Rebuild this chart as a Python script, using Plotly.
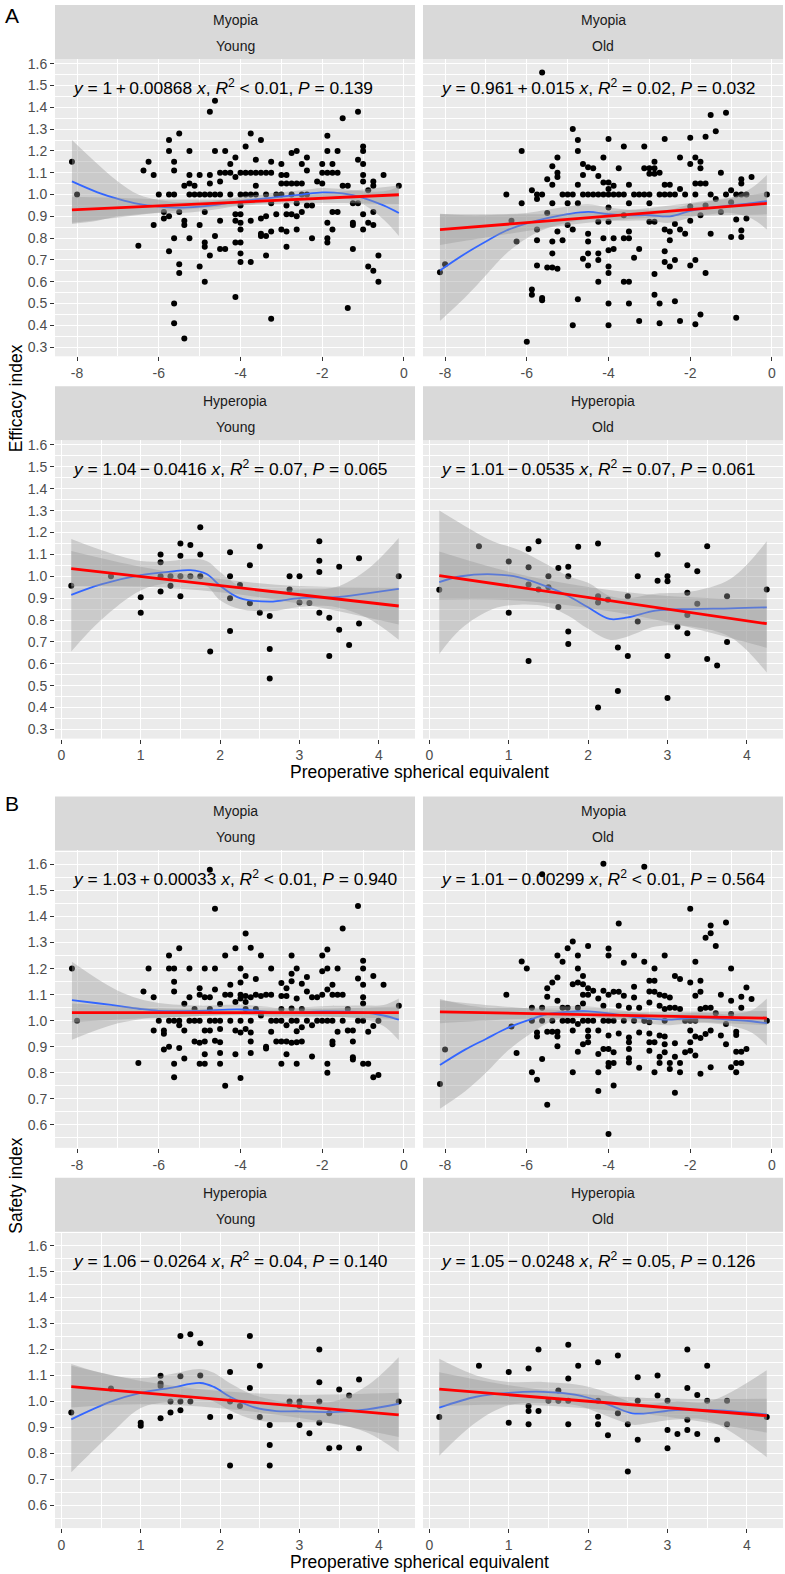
import plotly.graph_objects as go

W, H = 785, 1574

# ---------------- tick labels and facet labels ----------------
eff_ticks = [0.3, 0.4, 0.5, 0.6, 0.7, 0.8, 0.9, 1.0, 1.1, 1.2, 1.3, 1.4, 1.5, 1.6]
eff_tick_text = ['0.3', '0.4', '0.5', '0.6', '0.7', '0.8', '0.9', '1.0', '1.1', '1.2', '1.3', '1.4', '1.5', '1.6']
safe_ticks = [0.6, 0.7, 0.8, 0.9, 1.0, 1.1, 1.2, 1.3, 1.4, 1.5, 1.6]
safe_tick_text = ['0.6', '0.7', '0.8', '0.9', '1.0', '1.1', '1.2', '1.3', '1.4', '1.5', '1.6']
myo_ticks = [-8, -6, -4, -2, 0]
myo_tick_text = ['-8', '-6', '-4', '-2', '0']
hyp_ticks = [0, 1, 2, 3, 4]
hyp_tick_text = ['0', '1', '2', '3', '4']

refraction = ['Myopia', 'Hyperopia']
age_group = ['Young', 'Old']
y_titles = ['Efficacy index', 'Safety index']
x_title = 'Preoperative spherical equivalent'
fig_labels = ['A', 'B']

eq_labels = [
    '<i>y</i> = 1\u2009+\u20090.00868 <i>x</i>, <i>R</i><sup>2</sup> &lt; 0.01, <i>P</i> = 0.139',
    '<i>y</i> = 0.961\u2009+\u20090.015 <i>x</i>, <i>R</i><sup>2</sup> = 0.02, <i>P</i> = 0.032',
    '<i>y</i> = 1.04\u2009\u2212\u20090.0416 <i>x</i>, <i>R</i><sup>2</sup> = 0.07, <i>P</i> = 0.065',
    '<i>y</i> = 1.01\u2009\u2212\u20090.0535 <i>x</i>, <i>R</i><sup>2</sup> = 0.07, <i>P</i> = 0.061',
    '<i>y</i> = 1.03\u2009+\u20090.00033 <i>x</i>, <i>R</i><sup>2</sup> &lt; 0.01, <i>P</i> = 0.940',
    '<i>y</i> = 1.01\u2009\u2212\u20090.00299 <i>x</i>, <i>R</i><sup>2</sup> &lt; 0.01, <i>P</i> = 0.564',
    '<i>y</i> = 1.06\u2009\u2212\u20090.0264 <i>x</i>, <i>R</i><sup>2</sup> = 0.04, <i>P</i> = 0.140',
    '<i>y</i> = 1.05\u2009\u2212\u20090.0248 <i>x</i>, <i>R</i><sup>2</sup> = 0.05, <i>P</i> = 0.126',
]

# ---------------- A: efficacy, myopia young ----------------
a_myo_young_pts = [
    (-8.125, 1.15), (-8.0, 1.0), (-6.5, 0.765), (-6.375, 1.11), (-6.25, 1.15), (-6.125, 1.09), (-6.125, 0.86),
    (-6.0, 1.0), (-5.875, 0.92), (-5.875, 0.89),
    (-5.75, 1.25), (-5.75, 1.2), (-5.75, 1.0), (-5.75, 0.9), (-5.75, 0.74),
    (-5.625, 1.15), (-5.625, 1.11), (-5.625, 1.0), (-5.625, 0.8), (-5.625, 0.5), (-5.625, 0.41),
    (-5.5, 1.28), (-5.5, 0.92), (-5.5, 0.68), (-5.5, 0.64),
    (-5.375, 1.04), (-5.375, 0.88), (-5.375, 0.86), (-5.375, 0.34),
    (-5.25, 1.2), (-5.25, 1.09), (-5.25, 1.05), (-5.25, 1.0), (-5.25, 0.8),
    (-5.125, 1.04), (-5.125, 1.0),
    (-5.0, 1.09), (-5.0, 1.0), (-5.0, 0.86), (-5.0, 0.67),
    (-4.875, 0.78), (-4.875, 0.76), (-4.875, 0.92), (-4.875, 0.6), (-4.875, 1.0),
    (-4.75, 1.38), (-4.75, 1.09), (-4.75, 1.05), (-4.75, 1.0), (-4.75, 0.72),
    (-4.625, 1.43), (-4.625, 1.2), (-4.625, 1.0), (-4.625, 0.81),
    (-4.5, 1.1), (-4.5, 1.06), (-4.5, 1.0), (-4.5, 0.88), (-4.5, 0.75),
    (-4.375, 1.2), (-4.375, 1.1), (-4.375, 0.75),
    (-4.25, 1.14), (-4.25, 1.1), (-4.25, 1.0),
    (-4.125, 1.17), (-4.125, 1.08), (-4.125, 0.91), (-4.125, 0.88), (-4.125, 0.78), (-4.125, 0.53),
    (-4.0, 1.1), (-4.0, 1.0), (-4.0, 0.95), (-4.0, 0.91), (-4.0, 0.87), (-4.0, 0.84), (-4.0, 0.78),
    (-4.0, 0.73), (-4.0, 0.69),
    (-3.875, 1.22), (-3.875, 1.1), (-3.875, 1.0),
    (-3.75, 1.28), (-3.75, 1.1), (-3.75, 1.0), (-3.75, 0.88), (-3.75, 0.69),
    (-3.625, 1.16), (-3.625, 1.04), (-3.625, 1.0), (-3.625, 1.1),
    (-3.5, 1.25), (-3.5, 1.1), (-3.5, 0.89), (-3.5, 0.82), (-3.5, 0.81),
    (-3.375, 1.1), (-3.375, 1.0), (-3.375, 0.9), (-3.375, 0.81), (-3.375, 0.72),
    (-3.25, 1.15), (-3.25, 1.1), (-3.25, 0.96), (-3.25, 0.83), (-3.25, 0.43),
    (-3.125, 1.0), (-3.125, 0.91),
    (-3.0, 1.14), (-3.0, 1.09), (-3.0, 1.05), (-3.0, 1.0), (-3.0, 0.84),
    (-2.875, 1.09), (-2.875, 1.05), (-2.875, 0.95), (-2.875, 0.91), (-2.875, 0.83), (-2.875, 0.76),
    (-2.75, 1.19), (-2.75, 1.05), (-2.75, 1.0), (-2.75, 0.91),
    (-2.625, 1.2), (-2.625, 1.05), (-2.625, 0.96), (-2.625, 0.9), (-2.625, 0.84),
    (-2.5, 1.14), (-2.5, 1.05), (-2.5, 1.0), (-2.5, 0.92),
    (-2.375, 1.17), (-2.375, 1.11), (-2.375, 1.0), (-2.375, 0.95),
    (-2.25, 0.95), (-2.25, 0.8), (-2.125, 1.06),
    (-2.0, 1.14), (-2.0, 1.1), (-2.0, 1.05),
    (-1.875, 1.27), (-1.875, 1.2), (-1.875, 1.1), (-1.875, 0.87), (-1.875, 0.8), (-1.875, 0.78),
    (-1.75, 1.14), (-1.75, 1.1), (-1.75, 0.92), (-1.75, 0.84),
    (-1.625, 1.2), (-1.625, 1.1), (-1.625, 0.92),
    (-1.5, 1.35), (-1.5, 1.04), (-1.375, 1.04), (-1.375, 0.48),
    (-1.25, 0.96), (-1.25, 0.87), (-1.25, 0.86), (-1.25, 0.75),
    (-1.125, 1.38), (-1.125, 1.16), (-1.125, 0.96),
    (-1.0, 1.22), (-1.0, 1.2), (-1.0, 1.14), (-1.0, 1.09), (-1.0, 1.06), (-1.0, 0.91), (-1.0, 0.84),
    (-0.875, 1.02), (-0.875, 0.87), (-0.875, 0.67),
    (-0.75, 1.06), (-0.75, 1.04), (-0.75, 0.92), (-0.75, 0.86), (-0.75, 0.65),
    (-0.625, 0.72), (-0.625, 0.6), (-0.5, 1.09), (-0.125, 1.04),
]
a_myo_young_loess_x = [-8.125, -7.5, -7, -6.5, -6, -5.5, -5, -4.5, -4, -3.5, -3, -2.5, -2, -1.5, -1, -0.5, -0.125]
a_myo_young_loess_fit = [1.06, 1.01, 0.98, 0.957, 0.945, 0.94, 0.945, 0.955, 0.97, 0.98, 0.99, 1.0, 1.01, 1.005, 0.985, 0.95, 0.915]
a_myo_young_loess_hi = [1.25, 1.14, 1.06, 1.0, 0.975, 0.965, 0.968, 0.975, 0.99, 1.0, 1.01, 1.02, 1.03, 1.025, 1.015, 1.015, 1.035]
a_myo_young_loess_lo = [0.865, 0.88, 0.9, 0.91, 0.915, 0.915, 0.922, 0.935, 0.95, 0.96, 0.97, 0.98, 0.99, 0.985, 0.955, 0.885, 0.81]
a_myo_young_band_x = [-8.125, -7, -6, -5, -4, -3, -2, -1, -0.125]
a_myo_young_band_hi = [0.99, 0.985, 0.978, 0.977, 0.98, 0.99, 1.005, 1.023, 1.041]
a_myo_young_band_lo = [0.87, 0.895, 0.918, 0.937, 0.95, 0.958, 0.961, 0.959, 0.957]
a_myo_young_lm_x = [-8.125, -0.125]
a_myo_young_lm_y = [0.93, 0.999]

# ---------------- A: efficacy, myopia old ----------------
a_myo_old_pts = [
    (-8.125, 0.644), (-8.0, 0.68),
    (-6.5, 1.0), (-6.375, 0.88), (-6.25, 0.785), (-6.125, 1.2), (-6.125, 0.96), (-6.0, 0.325),
    (-5.875, 1.02), (-5.875, 0.565), (-5.875, 0.54),
    (-5.75, 1.0), (-5.75, 0.98), (-5.75, 0.84), (-5.75, 0.79), (-5.75, 0.675),
    (-5.625, 1.56), (-5.625, 1.0), (-5.625, 0.525), (-5.625, 0.515),
    (-5.5, 1.07), (-5.5, 0.915), (-5.5, 0.665),
    (-5.375, 1.13), (-5.375, 1.045), (-5.375, 0.96), (-5.375, 0.785), (-5.375, 0.73), (-5.375, 0.665),
    (-5.25, 1.17), (-5.25, 1.1), (-5.25, 1.08), (-5.25, 0.83), (-5.25, 0.66),
    (-5.125, 1.0), (-5.125, 0.79),
    (-5.0, 1.0), (-5.0, 0.96), (-5.0, 0.86),
    (-4.875, 1.3), (-4.875, 1.0), (-4.875, 0.84), (-4.875, 0.4),
    (-4.75, 1.25), (-4.75, 1.2), (-4.75, 1.045), (-4.75, 0.96), (-4.75, 0.52),
    (-4.625, 1.14), (-4.625, 1.09), (-4.625, 1.0), (-4.625, 0.705),
    (-4.5, 1.125), (-4.5, 1.0), (-4.5, 0.82), (-4.5, 0.785), (-4.5, 0.73), (-4.5, 0.675),
    (-4.375, 1.12), (-4.375, 1.0),
    (-4.25, 1.085), (-4.25, 0.875), (-4.25, 0.73), (-4.25, 0.7), (-4.25, 0.6), (-4.25, 1.0),
    (-4.125, 1.17), (-4.125, 1.055), (-4.125, 1.0), (-4.125, 0.8),
    (-4.0, 1.255), (-4.0, 1.055), (-4.0, 1.025), (-4.0, 0.94), (-4.0, 0.875), (-4.0, 0.745),
    (-4.0, 0.67), (-4.0, 0.64), (-4.0, 0.5), (-4.0, 0.4), (-4.0, 1.0),
    (-3.875, 1.04), (-3.875, 1.0), (-3.875, 0.8), (-3.875, 0.75),
    (-3.75, 1.12), (-3.75, 1.0),
    (-3.625, 1.22), (-3.625, 1.0), (-3.625, 0.905), (-3.625, 0.8), (-3.625, 0.6),
    (-3.5, 1.045), (-3.5, 0.96), (-3.5, 0.83), (-3.5, 0.8), (-3.5, 0.6), (-3.5, 0.5),
    (-3.375, 1.0), (-3.375, 0.71),
    (-3.25, 1.0), (-3.25, 0.75), (-3.25, 0.42),
    (-3.125, 1.22), (-3.125, 1.12), (-3.125, 1.0),
    (-3.0, 1.12), (-3.0, 1.095), (-3.0, 0.96), (-3.0, 0.875), (-3.0, 1.0),
    (-2.875, 1.15), (-2.875, 1.12), (-2.875, 1.095), (-2.875, 0.875), (-2.875, 0.635), (-2.875, 0.54),
    (-2.75, 1.1), (-2.75, 1.0), (-2.75, 0.5), (-2.75, 0.41),
    (-2.625, 1.255), (-2.625, 1.045), (-2.625, 1.0), (-2.625, 0.84), (-2.625, 0.74), (-2.625, 0.69),
    (-2.5, 1.045), (-2.5, 1.0), (-2.5, 0.83), (-2.5, 0.79), (-2.5, 0.67),
    (-2.375, 1.0), (-2.375, 0.865), (-2.375, 0.7), (-2.375, 0.51),
    (-2.25, 1.17), (-2.25, 1.025), (-2.25, 0.84), (-2.25, 0.42),
    (-2.125, 1.0), (-2.125, 0.82),
    (-2.0, 1.26), (-2.0, 1.14), (-2.0, 0.945), (-2.0, 0.88), (-2.0, 0.675),
    (-1.875, 1.17), (-1.875, 1.05), (-1.875, 1.0), (-1.875, 0.7), (-1.875, 0.405),
    (-1.75, 1.15), (-1.75, 1.12), (-1.75, 1.05), (-1.75, 0.905), (-1.75, 0.45),
    (-1.625, 1.265), (-1.625, 1.05), (-1.625, 0.95), (-1.625, 0.64),
    (-1.5, 1.365), (-1.5, 1.0), (-1.5, 0.82),
    (-1.375, 1.29), (-1.375, 0.98),
    (-1.25, 1.1), (-1.25, 0.92),
    (-1.125, 1.375), (-1.125, 1.0),
    (-1.0, 1.02), (-1.0, 0.965), (-1.0, 0.805),
    (-0.875, 1.0), (-0.875, 0.885), (-0.875, 0.435),
    (-0.75, 1.07), (-0.75, 1.05), (-0.75, 1.0), (-0.75, 0.835), (-0.75, 0.805),
    (-0.625, 1.0), (-0.625, 0.89), (-0.5, 1.08), (-0.125, 1.0),
]
a_myo_old_loess_x = [-8.125, -7.5, -7, -6.5, -6, -5.5, -5, -4.5, -4, -3.5, -3, -2.5, -2, -1.5, -1, -0.5, -0.125]
a_myo_old_loess_fit = [0.652, 0.73, 0.785, 0.835, 0.868, 0.892, 0.91, 0.92, 0.91, 0.905, 0.905, 0.9, 0.925, 0.94, 0.95, 0.96, 0.97]
a_myo_old_loess_hi = [0.912, 0.905, 0.905, 0.91, 0.915, 0.93, 0.945, 0.955, 0.94, 0.93, 0.93, 0.93, 0.955, 0.97, 0.985, 1.03, 1.09]
a_myo_old_loess_lo = [0.42, 0.53, 0.63, 0.73, 0.8, 0.845, 0.87, 0.885, 0.88, 0.88, 0.88, 0.87, 0.895, 0.91, 0.915, 0.89, 0.84]
a_myo_old_band_x = [-8.125, -7, -6, -5, -4, -3, -2, -1, -0.125]
a_myo_old_band_hi = [0.909, 0.909, 0.909, 0.912, 0.922, 0.938, 0.961, 0.986, 1.009]
a_myo_old_band_lo = [0.769, 0.803, 0.833, 0.86, 0.88, 0.894, 0.901, 0.906, 0.909]
a_myo_old_lm_x = [-8.125, -0.125]
a_myo_old_lm_y = [0.839, 0.959]

# ---------------- A: efficacy, hyperopia young ----------------
a_hyp_young_pts = [
    (0.125, 0.957), (0.625, 1.0), (1.0, 0.904), (1.0, 0.833),
    (1.25, 1.099), (1.25, 1.064), (1.25, 1.0), (1.25, 0.93),
    (1.375, 1.0), (1.375, 0.957),
    (1.5, 1.15), (1.5, 1.094), (1.5, 1.0), (1.5, 0.909),
    (1.625, 1.143), (1.625, 1.0),
    (1.75, 1.224), (1.75, 1.099), (1.75, 1.0), (1.875, 0.656),
    (2.125, 1.11), (2.125, 1.0), (2.125, 0.9), (2.125, 0.75),
    (2.25, 0.96), (2.375, 1.05), (2.375, 0.877), (2.5, 1.136), (2.5, 0.833),
    (2.625, 0.818), (2.625, 0.667), (2.625, 0.533),
    (2.875, 1.0), (2.875, 0.94), (3.0, 1.0), (3.0, 0.88), (3.125, 0.878),
    (3.25, 1.16), (3.25, 1.071), (3.25, 1.02), (3.25, 0.833),
    (3.375, 0.81), (3.375, 0.636), (3.5, 1.044), (3.5, 0.755), (3.625, 0.686),
    (3.75, 1.082), (3.75, 0.784), (4.25, 1.0),
]
a_hyp_young_loess_x = [0.125, 0.5, 1.0, 1.375, 1.625, 1.83, 2.0, 2.25, 2.625, 3.0, 3.45, 3.85, 4.25]
a_hyp_young_loess_fit = [0.915, 0.963, 1.005, 1.021, 1.028, 1.01, 0.957, 0.9, 0.884, 0.9, 0.904, 0.922, 0.942]
a_hyp_young_loess_hi = [1.17, 1.12, 1.07, 1.07, 1.08, 1.07, 1.02, 0.955, 0.93, 0.94, 0.95, 1.03, 1.175]
a_hyp_young_loess_lo = [0.656, 0.8, 0.935, 0.97, 0.975, 0.955, 0.89, 0.85, 0.84, 0.86, 0.86, 0.81, 0.71]
a_hyp_young_band_x = [0.125, 1, 2, 3, 4.25]
a_hyp_young_band_hi = [1.115, 1.043, 0.987, 0.955, 0.949]
a_hyp_young_band_lo = [0.955, 0.953, 0.927, 0.875, 0.779]
a_hyp_young_lm_x = [0.125, 4.25]
a_hyp_young_lm_y = [1.035, 0.864]

# ---------------- A: efficacy, hyperopia old ----------------
a_hyp_old_pts = [
    (0.125, 0.938), (0.625, 1.137), (1.0, 1.067), (1.0, 0.833),
    (1.25, 1.125), (1.25, 1.041), (1.25, 0.962), (1.25, 0.613),
    (1.375, 1.16), (1.375, 0.939), (1.5, 1.0), (1.5, 0.95),
    (1.625, 1.038), (1.625, 0.86),
    (1.75, 1.044), (1.75, 1.0), (1.75, 0.747), (1.75, 0.69), (1.875, 1.135),
    (2.125, 1.15), (2.125, 0.909), (2.125, 0.88), (2.125, 0.4),
    (2.25, 0.893), (2.375, 0.674), (2.375, 0.476), (2.5, 0.909), (2.5, 0.636),
    (2.625, 1.0), (2.625, 0.793), (2.875, 1.1), (2.875, 0.979),
    (3.0, 1.0), (3.0, 0.977), (3.0, 0.636), (3.0, 0.444), (3.125, 0.769),
    (3.25, 1.05), (3.25, 0.925), (3.25, 0.823), (3.25, 0.74),
    (3.375, 1.023), (3.375, 0.874), (3.5, 1.137), (3.5, 0.622), (3.625, 0.592),
    (3.75, 0.909), (3.75, 0.7), (4.25, 0.939),
]
a_hyp_old_loess_x = [0.125, 0.4, 0.8, 1.13, 1.5, 1.75, 2.0, 2.27, 2.5, 2.85, 3.3, 3.8, 4.25]
a_hyp_old_loess_fit = [0.973, 1.0, 1.009, 0.995, 0.95, 0.91, 0.858, 0.805, 0.812, 0.843, 0.85, 0.853, 0.858]
a_hyp_old_loess_hi = [1.3, 1.24, 1.16, 1.12, 1.05, 1.0, 0.97, 0.91, 0.9, 0.92, 0.93, 0.99, 1.16]
a_hyp_old_loess_lo = [0.645, 0.76, 0.85, 0.87, 0.86, 0.82, 0.76, 0.71, 0.725, 0.77, 0.77, 0.72, 0.56]
a_hyp_old_band_x = [0.125, 1, 2, 3, 4.25]
a_hyp_old_band_hi = [1.113, 1.021, 0.951, 0.91, 0.893]
a_hyp_old_band_lo = [0.893, 0.891, 0.855, 0.79, 0.673]
a_hyp_old_lm_x = [0.125, 4.25]
a_hyp_old_lm_y = [1.003, 0.783]

# ---------------- B: safety, myopia young ----------------
b_myo_young_pts = [
    (-8.125, 1.2), (-8.0, 1.0), (-6.5, 0.838), (-6.375, 1.112), (-6.25, 1.2), (-6.125, 1.09), (-6.125, 0.962),
    (-6.0, 1.0), (-5.875, 0.962), (-5.875, 0.95), (-5.875, 0.889),
    (-5.75, 1.25), (-5.75, 1.2), (-5.75, 1.0), (-5.75, 0.9),
    (-5.625, 1.2), (-5.625, 1.15), (-5.625, 1.112), (-5.625, 1.0), (-5.625, 0.835), (-5.625, 0.783),
    (-5.5, 1.278), (-5.5, 1.0), (-5.5, 0.983), (-5.5, 0.895),
    (-5.375, 1.065), (-5.375, 0.962), (-5.375, 0.855),
    (-5.25, 1.2), (-5.25, 1.09), (-5.25, 1.0),
    (-5.125, 1.045), (-5.125, 1.0), (-5.125, 0.92),
    (-5.0, 1.125), (-5.0, 1.1), (-5.0, 1.0), (-5.0, 0.915), (-5.0, 0.835),
    (-4.875, 1.2), (-4.875, 1.09), (-4.875, 0.962), (-4.875, 0.92), (-4.875, 0.871), (-4.875, 0.835),
    (-4.75, 1.58), (-4.75, 1.09), (-4.75, 1.045), (-4.75, 1.0), (-4.75, 0.962),
    (-4.625, 1.43), (-4.625, 1.2), (-4.625, 1.12), (-4.625, 1.0), (-4.625, 0.923),
    (-4.5, 1.064), (-4.5, 1.0), (-4.5, 0.968), (-4.5, 0.917), (-4.5, 0.876), (-4.5, 0.835),
    (-4.375, 1.25), (-4.375, 1.1), (-4.375, 0.75),
    (-4.25, 1.138), (-4.25, 1.1), (-4.25, 1.0),
    (-4.125, 1.278), (-4.125, 1.072), (-4.125, 0.962), (-4.125, 0.871),
    (-4.0, 1.2), (-4.0, 1.147), (-4.0, 1.1), (-4.0, 1.085), (-4.0, 1.0), (-4.0, 0.955), (-4.0, 0.78),
    (-3.875, 1.335), (-3.875, 1.172), (-3.875, 1.095), (-3.875, 1.072), (-3.875, 1.045), (-3.875, 0.968),
    (-3.75, 1.28), (-3.75, 1.09), (-3.75, 1.0), (-3.75, 0.955), (-3.75, 0.92), (-3.75, 0.876),
    (-3.625, 1.16), (-3.625, 1.1), (-3.625, 1.045),
    (-3.5, 1.25), (-3.5, 1.095), (-3.5, 1.02),
    (-3.375, 1.1), (-3.375, 0.9), (-3.375, 0.893),
    (-3.25, 1.2), (-3.25, 1.1), (-3.25, 1.0), (-3.25, 0.958),
    (-3.125, 1.0), (-3.125, 0.92),
    (-3.0, 1.145), (-3.0, 1.095), (-3.0, 1.045), (-3.0, 1.0), (-3.0, 0.92), (-3.0, 0.835),
    (-2.875, 1.125), (-2.875, 1.095), (-2.875, 0.983), (-2.875, 0.92), (-2.875, 0.871),
    (-2.75, 1.25), (-2.75, 1.18), (-2.75, 1.152), (-2.75, 1.047), (-2.75, 1.0), (-2.75, 0.915),
    (-2.625, 1.2), (-2.625, 1.085), (-2.625, 1.0), (-2.625, 0.96), (-2.625, 0.917), (-2.625, 0.835),
    (-2.5, 1.142), (-2.5, 1.045), (-2.5, 0.975), (-2.5, 0.92),
    (-2.375, 1.168), (-2.375, 1.112), (-2.375, 1.0),
    (-2.25, 1.09), (-2.25, 0.983), (-2.25, 0.863),
    (-2.125, 1.09), (-2.125, 1.0),
    (-2.0, 1.25), (-2.0, 1.19), (-2.0, 1.1), (-2.0, 1.0),
    (-1.875, 1.273), (-1.875, 1.2), (-1.875, 1.12), (-1.875, 1.0), (-1.875, 0.835), (-1.875, 0.8),
    (-1.75, 1.138), (-1.75, 1.1), (-1.75, 1.0), (-1.75, 0.92), (-1.75, 0.91),
    (-1.625, 1.2), (-1.625, 1.1), (-1.625, 0.958),
    (-1.5, 1.354), (-1.5, 1.1), (-1.5, 1.0),
    (-1.375, 1.045), (-1.375, 0.962),
    (-1.25, 0.962), (-1.25, 0.92), (-1.25, 0.86), (-1.25, 0.851),
    (-1.125, 1.44), (-1.125, 1.162), (-1.125, 1.0),
    (-1.0, 1.23), (-1.0, 1.2), (-1.0, 1.138), (-1.0, 1.09), (-1.0, 1.066), (-1.0, 1.0), (-1.0, 0.835),
    (-0.875, 0.958), (-0.875, 0.835),
    (-0.75, 1.172), (-0.75, 0.98), (-0.75, 0.783),
    (-0.625, 1.0), (-0.625, 0.792), (-0.5, 1.138), (-0.125, 1.057),
]
b_myo_young_loess_x = [-8.125, -7.5, -7, -6.5, -6, -5, -4, -3, -2, -1, -0.5, -0.125]
b_myo_young_loess_fit = [1.079, 1.067, 1.057, 1.046, 1.038, 1.038, 1.043, 1.03, 1.036, 1.032, 1.02, 1.004]
b_myo_young_loess_hi = [1.226, 1.16, 1.115, 1.085, 1.068, 1.058, 1.062, 1.05, 1.056, 1.058, 1.06, 1.085]
b_myo_young_loess_lo = [0.927, 0.965, 0.99, 1.005, 1.01, 1.018, 1.024, 1.012, 1.016, 1.006, 0.98, 0.925]
b_myo_young_band_x = [-8.125, -6, -4, -2, -0.125]
b_myo_young_band_hi = [1.066, 1.048, 1.041, 1.046, 1.055]
b_myo_young_band_lo = [0.994, 1.012, 1.021, 1.016, 1.007]
b_myo_young_lm_x = [-8.125, -0.125]
b_myo_young_lm_y = [1.031, 1.031]

# ---------------- B: safety, myopia old ----------------
b_myo_old_pts = [
    (-8.125, 0.757), (-8.0, 0.889), (-6.5, 1.1), (-6.375, 0.978), (-6.25, 0.876), (-6.125, 1.227), (-6.0, 1.2),
    (-5.875, 1.05), (-5.875, 1.0), (-5.875, 0.802),
    (-5.75, 0.955), (-5.75, 0.939), (-5.75, 0.773),
    (-5.625, 1.562), (-5.625, 1.05), (-5.625, 1.0), (-5.625, 0.853),
    (-5.5, 1.125), (-5.5, 1.092), (-5.5, 0.958), (-5.5, 0.677),
    (-5.375, 1.147), (-5.375, 1.0), (-5.375, 0.958),
    (-5.25, 1.25), (-5.25, 1.166), (-5.25, 1.077), (-5.25, 0.958), (-5.25, 0.939), (-5.25, 0.902),
    (-5.125, 1.226), (-5.125, 1.05), (-5.125, 1.0),
    (-5.0, 1.278), (-5.0, 1.05), (-5.0, 1.0),
    (-4.875, 1.304), (-4.875, 1.14), (-4.875, 1.0), (-4.875, 0.962), (-4.875, 0.802),
    (-4.75, 1.25), (-4.75, 1.2), (-4.75, 1.147), (-4.75, 1.05), (-4.75, 0.987), (-4.75, 0.881),
    (-4.625, 1.172), (-4.625, 1.14), (-4.625, 1.1), (-4.625, 1.066), (-4.625, 1.0), (-4.625, 0.91),
    (-4.5, 1.287), (-4.5, 1.125), (-4.5, 1.1), (-4.5, 1.0), (-4.5, 0.962), (-4.5, 0.939), (-4.5, 0.917),
    (-4.375, 1.115), (-4.375, 1.0),
    (-4.25, 1.085), (-4.25, 0.962), (-4.25, 0.872), (-4.25, 0.802), (-4.25, 0.73),
    (-4.125, 1.603), (-4.125, 1.115), (-4.125, 1.057), (-4.125, 1.0), (-4.125, 0.891),
    (-4.0, 1.277), (-4.0, 1.25), (-4.0, 1.1), (-4.0, 1.0), (-4.0, 0.943), (-4.0, 0.891), (-4.0, 0.838),
    (-4.0, 0.824), (-4.0, 0.565),
    (-3.875, 1.111), (-3.875, 1.0), (-3.875, 0.879), (-3.875, 0.838), (-3.875, 0.751),
    (-3.75, 1.373), (-3.75, 1.111), (-3.75, 1.057), (-3.75, 0.951),
    (-3.625, 1.223), (-3.625, 1.096), (-3.625, 1.0),
    (-3.5, 1.05), (-3.5, 0.936), (-3.5, 0.917), (-3.5, 0.891), (-3.5, 0.856), (-3.5, 0.84),
    (-3.375, 1.25), (-3.375, 1.13), (-3.375, 1.089), (-3.375, 1.0),
    (-3.25, 1.05), (-3.25, 0.955), (-3.25, 0.819),
    (-3.125, 1.591), (-3.125, 1.226), (-3.125, 1.0),
    (-3.0, 1.153), (-3.0, 1.112), (-3.0, 1.07), (-3.0, 0.994), (-3.0, 0.951), (-3.0, 0.917), (-3.0, 0.885),
    (-2.875, 1.2), (-2.875, 1.153), (-2.875, 1.111), (-2.875, 0.917), (-2.875, 0.802),
    (-2.75, 1.1), (-2.75, 1.057), (-2.75, 0.943), (-2.75, 0.862), (-2.75, 0.838),
    (-2.625, 1.25), (-2.625, 1.096), (-2.625, 1.045), (-2.625, 1.0), (-2.625, 0.939), (-2.625, 0.91), (-2.625, 0.879),
    (-2.5, 1.089), (-2.5, 1.05), (-2.5, 0.838), (-2.5, 0.815),
    (-2.375, 1.172), (-2.375, 1.05), (-2.375, 0.913), (-2.375, 0.862), (-2.375, 0.723),
    (-2.25, 1.16), (-2.25, 1.045), (-2.25, 0.838), (-2.25, 0.802),
    (-2.125, 1.0), (-2.125, 0.879),
    (-2.0, 1.43), (-2.0, 1.147), (-2.0, 1.0), (-2.0, 0.962), (-2.0, 0.917), (-2.0, 0.885),
    (-1.875, 1.226), (-1.875, 1.096), (-1.875, 1.0), (-1.875, 0.939), (-1.875, 0.866),
    (-1.75, 1.153), (-1.75, 1.111), (-1.75, 1.045), (-1.75, 0.934), (-1.75, 0.796),
    (-1.625, 1.319), (-1.625, 1.05), (-1.625, 0.949),
    (-1.5, 1.366), (-1.5, 1.336), (-1.5, 1.05), (-1.5, 0.962), (-1.5, 0.821),
    (-1.375, 1.287), (-1.375, 1.029),
    (-1.25, 1.1), (-1.25, 0.943),
    (-1.125, 1.377), (-1.125, 0.987), (-1.125, 0.91),
    (-1.0, 1.2), (-1.0, 1.077), (-1.0, 1.026), (-1.0, 0.821),
    (-0.875, 0.958), (-0.875, 0.945), (-0.875, 0.881), (-0.875, 0.838), (-0.875, 0.802),
    (-0.75, 1.092), (-0.75, 1.05), (-0.75, 0.881), (-0.75, 0.838),
    (-0.625, 1.128), (-0.625, 0.891), (-0.5, 1.083), (-0.125, 1.0),
]
b_myo_old_loess_x = [-8.125, -7.5, -7, -6.5, -6, -5.5, -5, -4.5, -4, -3.5, -3, -2.5, -2, -1.5, -1, -0.5, -0.125]
b_myo_old_loess_fit = [0.83, 0.89, 0.93, 0.97, 1.0, 1.025, 1.034, 1.036, 1.028, 1.017, 1.008, 1.004, 1.01, 1.01, 1.003, 0.998, 0.99]
b_myo_old_loess_hi = [1.083, 1.06, 1.05, 1.05, 1.05, 1.055, 1.055, 1.055, 1.048, 1.035, 1.027, 1.024, 1.03, 1.03, 1.025, 1.04, 1.085]
b_myo_old_loess_lo = [0.662, 0.73, 0.8, 0.88, 0.94, 0.99, 1.012, 1.017, 1.008, 0.998, 0.988, 0.983, 0.99, 0.99, 0.98, 0.955, 0.905]
b_myo_old_band_x = [-8.125, -6, -4, -2, -0.125]
b_myo_old_band_hi = [1.078, 1.048, 1.035, 1.035, 1.037]
b_myo_old_band_lo = [0.99, 1.008, 1.009, 0.997, 0.983]
b_myo_old_lm_x = [-8.125, -0.125]
b_myo_old_lm_y = [1.034, 1.01]

# ---------------- B: safety, hyperopia young ----------------
b_hyp_young_pts = [
    (0.125, 0.957), (0.625, 1.05), (1.0, 0.918), (1.0, 0.906),
    (1.25, 1.099), (1.25, 1.069), (1.25, 1.059), (1.25, 0.935),
    (1.375, 1.0), (1.375, 0.957),
    (1.5, 1.252), (1.5, 1.097), (1.5, 1.0), (1.5, 0.966),
    (1.625, 1.259), (1.625, 1.0), (1.75, 1.224), (1.75, 1.1), (1.875, 0.94),
    (2.125, 1.113), (2.125, 1.0), (2.125, 0.941), (2.125, 0.753),
    (2.25, 0.982), (2.375, 1.252), (2.375, 1.052), (2.5, 1.137), (2.5, 0.94),
    (2.625, 0.909), (2.625, 0.832), (2.625, 0.753),
    (2.875, 1.0), (3.0, 1.0), (3.0, 0.982), (3.0, 0.909), (3.125, 0.877),
    (3.25, 1.2), (3.25, 1.074), (3.25, 1.0), (3.25, 0.918),
    (3.375, 0.954), (3.375, 0.82), (3.5, 1.046), (3.5, 0.822), (3.625, 1.023),
    (3.75, 1.084), (3.75, 0.82), (4.25, 1.0),
]
b_hyp_young_loess_x = [0.125, 0.64, 1.0, 1.375, 1.75, 1.92, 2.125, 2.42, 2.71, 3.0, 3.43, 3.85, 4.25]
b_hyp_young_loess_fit = [0.931, 1.001, 1.033, 1.052, 1.071, 1.056, 1.018, 0.978, 0.963, 0.962, 0.959, 0.969, 0.991]
b_hyp_young_loess_hi = [1.144, 1.1, 1.09, 1.105, 1.125, 1.11, 1.07, 1.025, 1.003, 1.0, 1.0, 1.06, 1.17]
b_hyp_young_loess_lo = [0.727, 0.88, 0.975, 1.0, 1.015, 1.0, 0.965, 0.93, 0.92, 0.92, 0.915, 0.88, 0.805]
b_hyp_young_band_x = [0.125, 1, 2, 3, 4.25]
b_hyp_young_band_hi = [1.137, 1.079, 1.04, 1.026, 1.033]
b_hyp_young_band_lo = [0.977, 0.989, 0.974, 0.936, 0.863]
b_hyp_young_lm_x = [0.125, 4.25]
b_hyp_young_lm_y = [1.057, 0.948]

# ---------------- B: safety, hyperopia old ----------------
b_hyp_old_pts = [
    (0.125, 0.94), (0.625, 1.137), (1.0, 1.113), (1.0, 0.918),
    (1.25, 1.127), (1.25, 0.982), (1.25, 0.963), (1.25, 0.912),
    (1.375, 1.2), (1.375, 0.963), (1.5, 1.003),
    (1.625, 1.042), (1.625, 1.003),
    (1.75, 1.218), (1.75, 1.088), (1.75, 1.003), (1.75, 0.912), (1.875, 1.137),
    (2.125, 1.151), (2.125, 1.003), (2.125, 0.941), (2.125, 0.912),
    (2.25, 0.87), (2.375, 1.177), (2.375, 0.954), (2.5, 0.912), (2.5, 0.73),
    (2.625, 1.093), (2.625, 1.003), (2.625, 0.852), (2.875, 1.1), (2.875, 1.023),
    (3.0, 1.003), (3.0, 0.89), (3.0, 0.82), (3.125, 0.874),
    (3.25, 1.2), (3.25, 1.052), (3.25, 0.929), (3.25, 0.89),
    (3.375, 1.025), (3.375, 0.874), (3.5, 1.137), (3.5, 1.003), (3.625, 0.852),
    (3.75, 1.003), (3.75, 0.912), (4.25, 0.94),
]
b_hyp_old_loess_x = [0.125, 0.59, 1.0, 1.43, 1.85, 2.14, 2.35, 2.56, 2.73, 3.1, 3.53, 4.25]
b_hyp_old_loess_fit = [0.976, 1.018, 1.033, 1.037, 1.025, 1.001, 0.976, 0.954, 0.954, 0.967, 0.967, 0.95]
b_hyp_old_loess_hi = [1.164, 1.1, 1.075, 1.075, 1.065, 1.045, 1.02, 0.995, 0.99, 1.0, 1.0, 1.12]
b_hyp_old_loess_lo = [0.791, 0.92, 0.985, 0.995, 0.985, 0.955, 0.93, 0.91, 0.915, 0.93, 0.925, 0.785]
b_hyp_old_band_x = [0.125, 1, 2, 3, 4.25]
b_hyp_old_band_hi = [1.112, 1.062, 1.027, 1.011, 1.01]
b_hyp_old_band_lo = [0.982, 0.988, 0.973, 0.941, 0.88]
b_hyp_old_lm_x = [0.125, 4.25]
b_hyp_old_lm_y = [1.047, 0.945]

# panel order: row by row (A myopia, A hyperopia, B myopia, B hyperopia), young then old
panels = [
    (a_myo_young_pts, a_myo_young_loess_x, a_myo_young_loess_fit, a_myo_young_loess_lo, a_myo_young_loess_hi,
     a_myo_young_band_x, a_myo_young_band_lo, a_myo_young_band_hi, a_myo_young_lm_x, a_myo_young_lm_y),
    (a_myo_old_pts, a_myo_old_loess_x, a_myo_old_loess_fit, a_myo_old_loess_lo, a_myo_old_loess_hi,
     a_myo_old_band_x, a_myo_old_band_lo, a_myo_old_band_hi, a_myo_old_lm_x, a_myo_old_lm_y),
    (a_hyp_young_pts, a_hyp_young_loess_x, a_hyp_young_loess_fit, a_hyp_young_loess_lo, a_hyp_young_loess_hi,
     a_hyp_young_band_x, a_hyp_young_band_lo, a_hyp_young_band_hi, a_hyp_young_lm_x, a_hyp_young_lm_y),
    (a_hyp_old_pts, a_hyp_old_loess_x, a_hyp_old_loess_fit, a_hyp_old_loess_lo, a_hyp_old_loess_hi,
     a_hyp_old_band_x, a_hyp_old_band_lo, a_hyp_old_band_hi, a_hyp_old_lm_x, a_hyp_old_lm_y),
    (b_myo_young_pts, b_myo_young_loess_x, b_myo_young_loess_fit, b_myo_young_loess_lo, b_myo_young_loess_hi,
     b_myo_young_band_x, b_myo_young_band_lo, b_myo_young_band_hi, b_myo_young_lm_x, b_myo_young_lm_y),
    (b_myo_old_pts, b_myo_old_loess_x, b_myo_old_loess_fit, b_myo_old_loess_lo, b_myo_old_loess_hi,
     b_myo_old_band_x, b_myo_old_band_lo, b_myo_old_band_hi, b_myo_old_lm_x, b_myo_old_lm_y),
    (b_hyp_young_pts, b_hyp_young_loess_x, b_hyp_young_loess_fit, b_hyp_young_loess_lo, b_hyp_young_loess_hi,
     b_hyp_young_band_x, b_hyp_young_band_lo, b_hyp_young_band_hi, b_hyp_young_lm_x, b_hyp_young_lm_y),
    (b_hyp_old_pts, b_hyp_old_loess_x, b_hyp_old_loess_fit, b_hyp_old_loess_lo, b_hyp_old_loess_hi,
     b_hyp_old_band_x, b_hyp_old_band_lo, b_hyp_old_band_hi, b_hyp_old_lm_x, b_hyp_old_lm_y),
]

# layout geometry in pixels
col_px = [(55, 415), (423, 783)]
row_px = [(56, 354), (438, 737), (849, 1147), (1231, 1528)]
strip_h = 54
y_ranges = [[0.258, 1.622], [0.512, 1.654]]
x_ranges = [[-8.54, 0.27], [-0.08, 4.455]]

FONT = 'Liberation Sans, Arial, sans-serif'
BAND = 'rgba(153,153,153,0.4)'


def px_x(p):
    return p / W


def px_y(p):
    return 1 - p / H


fig = go.Figure()
layout = {}
shapes = []
annotations = []

for i, p in enumerate(panels):
    pts, lx, lfit, llo, lhi, bx, blo, bhi, mx, my = p
    r, c = i // 2, i % 2
    fig_i = r // 2          # 0 -> A (efficacy), 1 -> B (safety)
    ref_i = r % 2           # 0 -> myopia, 1 -> hyperopia
    n = i + 1
    xa = 'x' if n == 1 else 'x%d' % n
    ya = 'y' if n == 1 else 'y%d' % n
    common = dict(xaxis=xa, yaxis=ya, showlegend=False, hoverinfo='skip')

    fig.add_trace(go.Scatter(x=[q[0] for q in pts], y=[q[1] for q in pts], mode='markers',
                             marker=dict(size=6, color='black'), **common))
    # loess ribbon + line
    fig.add_trace(go.Scatter(x=lx, y=llo, mode='lines', line=dict(width=0, shape='spline'), **common))
    fig.add_trace(go.Scatter(x=lx, y=lhi, mode='lines', line=dict(width=0, shape='spline'),
                             fill='tonexty', fillcolor=BAND, **common))
    fig.add_trace(go.Scatter(x=lx, y=lfit, mode='lines', line=dict(color='#3366FF', width=1.8, shape='spline'),
                             **common))
    # linear fit ribbon + line
    fig.add_trace(go.Scatter(x=bx, y=blo, mode='lines', line=dict(width=0, shape='spline'), **common))
    fig.add_trace(go.Scatter(x=bx, y=bhi, mode='lines', line=dict(width=0, shape='spline'),
                             fill='tonexty', fillcolor=BAND, **common))
    fig.add_trace(go.Scatter(x=mx, y=my, mode='lines', line=dict(color='#FF0000', width=2.8), **common))

    x0, x1 = col_px[c]
    y0, y1 = row_px[r]
    if ref_i == 0:
        xt, xtt, xminor = myo_ticks, myo_tick_text, 1
    else:
        xt, xtt, xminor = hyp_ticks, hyp_tick_text, 0.5
    if fig_i == 0:
        yt, ytt = eff_ticks, eff_tick_text
    else:
        yt, ytt = safe_ticks, safe_tick_text

    layout['xaxis' if n == 1 else 'xaxis%d' % n] = dict(
        domain=[px_x(x0), px_x(x1)], anchor=ya, range=x_ranges[ref_i],
        tickmode='array', tickvals=xt, ticktext=xtt, ticks='outside', ticklen=4,
        tickcolor='#333333', tickwidth=1, showgrid=True, gridcolor='white', gridwidth=1.4,
        zeroline=False, showline=False, ticklabeloverflow='allow',
        tickfont=dict(size=14, color='#4D4D4D', family=FONT),
        minor=dict(tickmode='linear', tick0=xminor, dtick=2 * xminor, showgrid=True,
                   gridcolor='white', gridwidth=0.7, ticks=''),
    )
    layout['yaxis' if n == 1 else 'yaxis%d' % n] = dict(
        domain=[px_y(y1), px_y(y0)], anchor=xa, range=y_ranges[fig_i],
        tickmode='array', tickvals=yt, ticktext=ytt,
        ticks='outside' if c == 0 else '', ticklen=4, tickcolor='#333333', tickwidth=1,
        showticklabels=(c == 0), showgrid=True, gridcolor='white', gridwidth=1.4,
        zeroline=False, showline=False, ticklabeloverflow='allow',
        tickfont=dict(size=14, color='#4D4D4D', family=FONT),
        minor=dict(tickmode='linear', tick0=0.25, dtick=0.1, showgrid=True,
                   gridcolor='white', gridwidth=0.7, ticks=''),
    )

    # facet strip
    shapes.append(dict(type='rect', xref='paper', yref='paper', x0=px_x(x0), x1=px_x(x1),
                       y0=px_y(y0), y1=px_y(y0 - strip_h), fillcolor='#D9D9D9', line=dict(width=0),
                       layer='below'))
    annotations.append(dict(text=refraction[ref_i], x=px_x((x0 + x1) / 2), y=px_y(y0 - strip_h + 15),
                            xref='paper', yref='paper', showarrow=False, xanchor='center', yanchor='middle',
                            font=dict(size=14, color='#1A1A1A', family=FONT)))
    annotations.append(dict(text=age_group[c], x=px_x((x0 + x1) / 2), y=px_y(y0 - strip_h + 41),
                            xref='paper', yref='paper', showarrow=False, xanchor='center', yanchor='middle',
                            font=dict(size=14, color='#1A1A1A', family=FONT)))
    # regression equation
    annotations.append(dict(text=eq_labels[i], x=px_x(x0 + 16), y=px_y(y0 + 28),
                            xref='paper', yref='paper', showarrow=False, xanchor='left', yanchor='middle',
                            font=dict(size=17.4, color='black', family=FONT)))

# axis titles and figure labels
for k, (xt_y, yt_y, lab_y) in enumerate([(770, 396, 13), (1562, 1185, 802)]):
    annotations.append(dict(text=x_title, x=px_x(419), y=px_y(xt_y), xref='paper', yref='paper',
                            showarrow=False, xanchor='center', yanchor='middle',
                            font=dict(size=17.5, color='black', family=FONT)))
    annotations.append(dict(text=y_titles[k], x=px_x(16), y=px_y(yt_y), xref='paper', yref='paper',
                            showarrow=False, textangle=-90, xanchor='center', yanchor='middle',
                            font=dict(size=17.5, color='black', family=FONT)))
    annotations.append(dict(text=fig_labels[k], x=px_x(12), y=px_y(lab_y), xref='paper', yref='paper',
                            showarrow=False, xanchor='center', yanchor='middle',
                            font=dict(size=21, color='black', family=FONT)))

fig.update_layout(
    width=W, height=H, margin=dict(l=0, r=0, t=0, b=0),
    paper_bgcolor='white', plot_bgcolor='#EBEBEB',
    shapes=shapes, annotations=annotations, showlegend=False,
    font=dict(family=FONT),
    **layout
)

# remove the default page margin so the figure sits at the window's top-left corner
fig.write_html("out.html", config={'displayModeBar': False},
               post_script="document.body.style.margin='0';document.body.style.overflow='hidden';")
